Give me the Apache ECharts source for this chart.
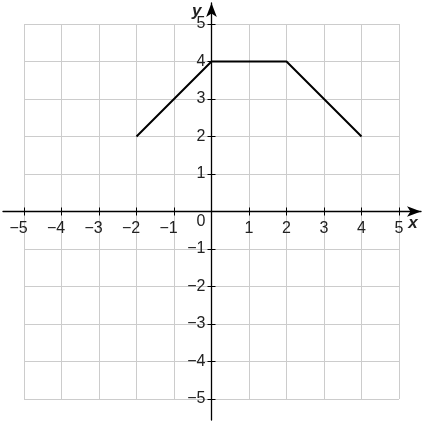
<!DOCTYPE html>
<html>
<head>
<meta charset="utf-8">
<script src="https://cdn.jsdelivr.net/npm/echarts@6/dist/echarts.min.js"></script>
<style>
html, body { margin: 0; padding: 0; background: #fff; }
#chart { width: 423px; height: 423px; }
</style>
</head>
<body>
<div id="chart"></div>
<script>
// data
const xs = [-2, 0, 2, 4];
const ys = [2, 4, 4, 2];
const axisMin = -5;
const axisMax = 5;

let chart = echarts.init(document.getElementById("chart"));

const font = "Liberation Sans, Arial, sans-serif";

function xLabel(v) {
    if (v === 0) return "";
    if (v < 0) return "{n|\u2212" + Math.abs(v) + "}";
    return "{p|" + v + "}";
}
function yLabel(v) {
    if (v === 0) return "{z|0}";
    if (v < 0) return "{p|\u2212" + Math.abs(v) + "}";
    return "{p|" + v + "}";
}
const labelRich = {
    n: { fontSize: 16, fontFamily: font, color: "#222", padding: [0, 11, 0, 0] },
    p: { fontSize: 16, fontFamily: font, color: "#222" },
    z: { fontSize: 16, fontFamily: font, color: "#222", padding: [21, 0, 0, 0] }
};

let option = {
    animation: false,
    grid: [
        // plot area with grid lines
        { left: 24, top: 24, width: 375, height: 375 },
        // x ticks + labels
        { left: 24, top: 24, width: 375, height: 191.5 },
        // y ticks + labels
        { left: 207.5, top: 24, width: 100, height: 375 },
        // axis lines with arrows
        { left: 3, top: 3, width: 418, height: 417 }
    ],
    xAxis: [
        {
            gridIndex: 0, type: "value", min: axisMin, max: axisMax, interval: 1,
            axisLine: { show: false }, axisTick: { show: false }, axisLabel: { show: false },
            splitLine: { show: true, lineStyle: { color: "#cccccc", width: 1 } }
        },
        {
            gridIndex: 1, type: "value", min: axisMin, max: axisMax, interval: 1, position: "bottom",
            axisLine: { show: false },
            axisTick: { show: true, inside: true, length: 8, lineStyle: { color: "#000", width: 1 } },
            axisLabel: { show: true, margin: 5, formatter: xLabel, rich: labelRich, showMinLabel: true, showMaxLabel: true },
            splitLine: { show: false }
        },
        {
            gridIndex: 2, type: "value", min: 0, max: 1, show: false
        },
        {
            gridIndex: 3, type: "value", min: -5.56, max: 5.587,
            axisLine: { show: true, onZero: true, symbol: ["none", "arrow"], symbolSize: [8, 14], lineStyle: { color: "#000", width: 1.3 } },
            axisTick: { show: false }, axisLabel: { show: false }, splitLine: { show: false },
            name: "x", nameLocation: "end", nameGap: -8,
            nameTextStyle: { fontSize: 17, fontStyle: "italic", fontWeight: "bold", fontFamily: font, color: "#222", align: "center", verticalAlign: "top", padding: [3, 0, 0, 0] }
        }
    ],
    yAxis: [
        {
            gridIndex: 0, type: "value", min: axisMin, max: axisMax, interval: 1,
            axisLine: { show: false }, axisTick: { show: false }, axisLabel: { show: false },
            splitLine: { show: true, lineStyle: { color: "#cccccc", width: 1 } }
        },
        {
            gridIndex: 1, type: "value", min: 0, max: 1, show: false
        },
        {
            gridIndex: 2, type: "value", min: axisMin, max: axisMax, interval: 1, position: "left",
            axisLine: { show: false },
            axisTick: { show: true, inside: true, length: 8, lineStyle: { color: "#000", width: 1 } },
            axisLabel: { show: true, margin: 2, formatter: yLabel, rich: labelRich, showMinLabel: true, showMaxLabel: true },
            splitLine: { show: false }
        },
        {
            gridIndex: 3, type: "value", min: -5, max: 5,
            axisLine: { show: true, onZero: true, symbol: ["none", "arrow"], symbolSize: [8, 14], lineStyle: { color: "#000", width: 1.3 } },
            axisTick: { show: false }, axisLabel: { show: false }, splitLine: { show: false },
            name: "y", nameLocation: "end", nameGap: -8,
            nameTextStyle: { fontSize: 17, fontStyle: "italic", fontWeight: "bold", fontFamily: font, color: "#222", align: "right", verticalAlign: "middle", padding: [0, 10, 0, 0] }
        }
    ],
    series: [
        {
            type: "line",
            xAxisIndex: 0, yAxisIndex: 0,
            data: xs.map((x, i) => [x, ys[i]]),
            showSymbol: false,
            symbol: "none",
            lineStyle: { color: "#000", width: 2 },
            z: 5
        }
    ]
};
chart.setOption(option);
</script>
</body>
</html>
